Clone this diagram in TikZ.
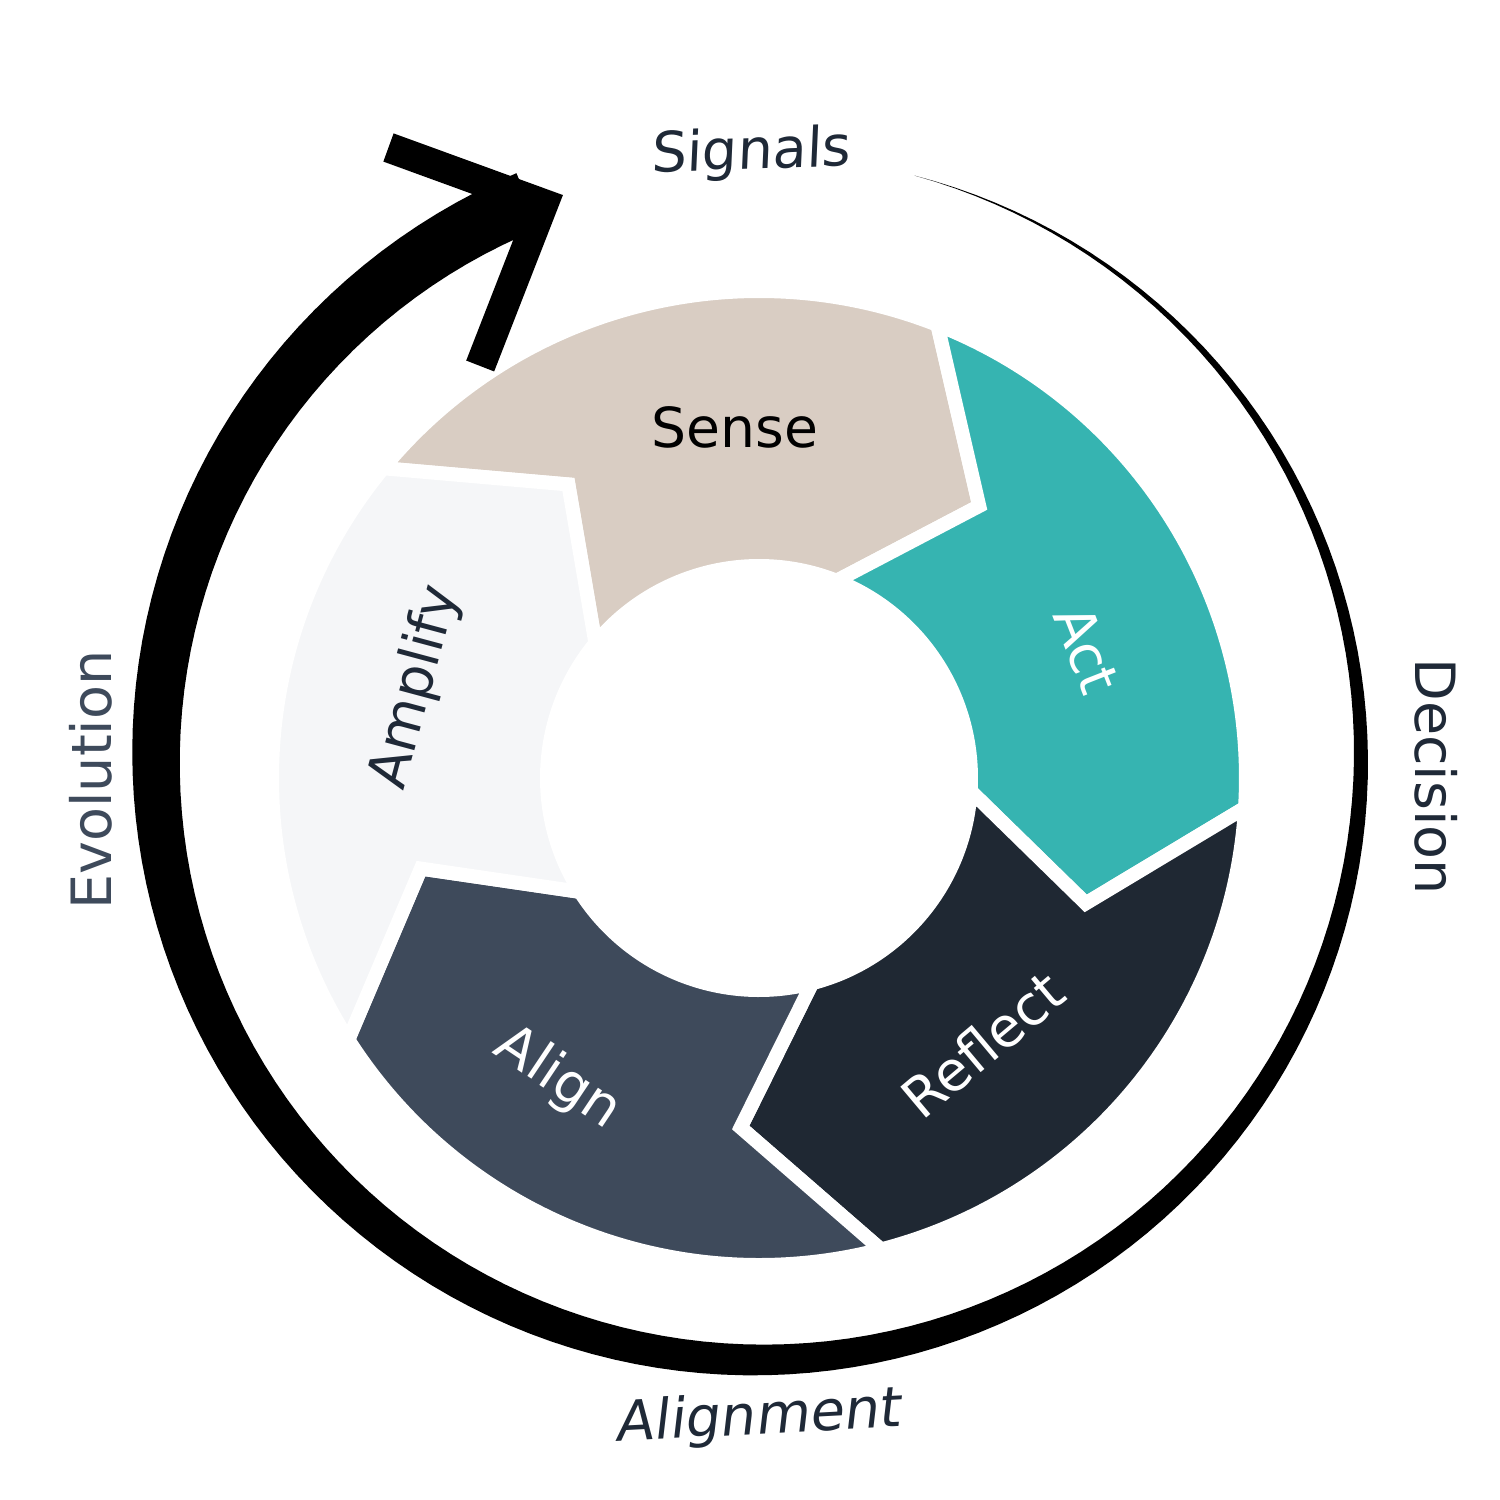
\documentclass[tikz,border=0pt]{standalone}
\usepackage{fontspec}
\setmainfont{DejaVu Sans}
\usepackage{xcolor}
\usepackage{tikz}
\usetikzlibrary{arrows.meta}
\definecolor{mysand}{RGB}{217,205,195}
\definecolor{myteal}{RGB}{54,180,177}
\definecolor{mynavy}{RGB}{31,40,51}
\definecolor{myslate}{RGB}{62,74,91}
\definecolor{mymist}{RGB}{245,246,248}
\definecolor{myink}{RGB}{31,41,55}
\tikzset{
  seg/.style={draw=white, line width=1.4mm, line join=miter},
  segtext/.style={font=\fontsize{15.7}{19}\selectfont, inner sep=0pt},
  outlabel/.style={font=\fontsize{15.8}{19}\selectfont, text=myink,
    inner sep=0pt, anchor=base},
  arrowhd/.style={draw=black, line width=3mm, line join=miter, line cap=butt}
}

\begin{document}
\begin{tikzpicture}
  \useasboundingbox (-7.59,-7.22) rectangle (7.41,7.78);

  % ring of five arrow segments
  \filldraw[seg, fill=mysand] (140.5:4.87) arc[start angle=140.5, end angle=68.5, radius=4.87]
    -- (51:3.5) -- (68.5:2.12) arc[start angle=68.5, end angle=140.5, radius=2.12] -- (123:3.5) -- cycle;
  \filldraw[seg, fill=myteal] (68.5:4.87) arc[start angle=68.5, end angle=-3.5, radius=4.87]
    -- (-21:3.5) -- (-3.5:2.12) arc[start angle=-3.5, end angle=68.5, radius=2.12] -- (51:3.5) -- cycle;
  \filldraw[seg, fill=mynavy] (-3.5:4.87) arc[start angle=-3.5, end angle=-75.5, radius=4.87]
    -- (-93:3.5) -- (-75.5:2.12) arc[start angle=-75.5, end angle=-3.5, radius=2.12] -- (-21:3.5) -- cycle;
  \filldraw[seg, fill=myslate] (-75.5:4.87) arc[start angle=-75.5, end angle=-147.5, radius=4.87]
    -- (-165:3.5) -- (-147.5:2.12) arc[start angle=-147.5, end angle=-75.5, radius=2.12] -- (-93:3.5) -- cycle;
  \filldraw[seg, fill=mymist] (-147.5:4.87) arc[start angle=-147.5, end angle=-219.5, radius=4.87]
    -- (-237:3.5) -- (-219.5:2.12) arc[start angle=-219.5, end angle=-147.5, radius=2.12] -- (-165:3.5) -- cycle;

  % segment texts
  \node[segtext, text=black] (sense) at (93.9:3.51) {Sense};
  \node[segtext, text=white, rotate=-68.6] (act) at (21.4:3.52) {Act};
  \node[segtext, text=white, rotate=40] (reflect) at (-50:3.48) {Reflect};
  \node[segtext, text=white, rotate=-33.8] (align) at (-123.8:3.62) {Align};
  \node[segtext, text=myink, rotate=75] (amplify) at (165.2:3.55) {Amplify};

  % swoosh that widens clockwise
  \begin{scope}[shift={(-0.005,0.205)}]
    \fill[black] plot[domain=75:-247.5, samples=160]
        ({(6.025+0.000925*(75-\x))*cos(\x)}, {(6.025+0.000925*(75-\x))*sin(\x)})
      -- plot[domain=-247.5:75, samples=160]
        ({(6.025-0.000925*(75-\x))*cos(\x)}, {(6.025-0.000925*(75-\x))*sin(\x)}) -- cycle;
  \end{scope}
  \coordinate (armup) at (-3.705,6.305);
  \coordinate (armtip) at (-2.156,5.741);
  \coordinate (armlow) at (-2.788,4.12);
  \draw[arrowhd] (armup) -- (armtip) -- (armlow);

  % outer labels
  \node[outlabel, rotate=2, xslant=0.08] (signals) at (-0.08,6.09) {Signals};
  \node[outlabel, rotate=-90] (decision) at (6.57,0.015) {Decision};
  \node[outlabel, rotate=3, xslant=0.17] (alignment) at (-0.01,-6.56) {Alignment};
  \node[outlabel, rotate=90, text=myslate] (evolution) at (-6.47,-0.02) {Evolution};
\end{tikzpicture}
\end{document}
